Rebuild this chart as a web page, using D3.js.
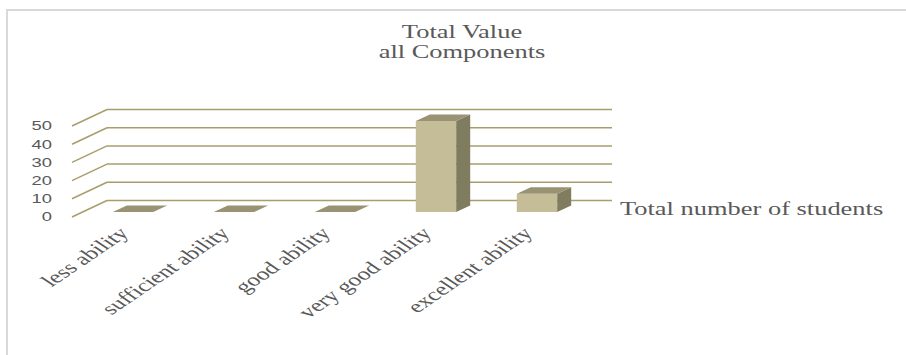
<!DOCTYPE html>
<html>
<head>
<meta charset="utf-8">
<script src="https://cdn.jsdelivr.net/npm/d3@7"></script>
<style>
  body { margin: 0; background: #fff; }
  svg { display: block; }
</style>
</head>
<body>
<svg id="chart" width="906" height="355"></svg>
<script>
var categories = ["less ability", "sufficient ability", "good ability", "very good ability", "excellent ability"];
var values = [0, 0, 0, 50, 10];
var yTicks = [0, 10, 20, 30, 40, 50];
var titleLines = ["Total Value", "all Components"];
var seriesName = "Total number of students";

// the source picture is stretched sideways, so text is too
var STRETCH = 1.47;
var DX = 35, DY = -16.5;   // depth offset of the back wall

var svg = d3.select("#chart");

var x = d3.scaleBand()
    .domain(categories)
    .range([72, 577])
    .padding(0);

var y = d3.scaleLinear()
    .domain([0, 50])
    .range([217, 126]);

function proj(px, py, f){
    return [px + f * DX, py + f * DY];
}

// frame
svg.append("rect")
    .attr("x", 7).attr("y", 10)
    .attr("width", 1000).attr("height", 500)
    .style("fill", "none")
    .style("stroke", "#d9d9d9")
    .style("stroke-width", 2);

// title
svg.selectAll(".title")
    .data(titleLines)
    .enter()
    .append("text")
    .attr("class", "title")
    .attr("transform", function(d, i){ return "translate(462," + (38 + i * 20) + ") scale(" + STRETCH + ",1)"; })
    .attr("text-anchor", "middle")
    .style("font-family", "'Liberation Serif', serif")
    .style("font-size", "18px")
    .style("fill", "#595959")
    .text(function(d){ return d; });

// gridlines: diagonal on the side wall + horizontal on the back wall
var grid = svg.append("g").attr("class", "grid");
grid.selectAll(".diag")
    .data(yTicks)
    .enter()
    .append("line")
    .attr("x1", function(){ return proj(72, 0, 0)[0]; })
    .attr("y1", function(d){ return proj(72, y(d), 0)[1]; })
    .attr("x2", function(){ return proj(72, 0, 1)[0]; })
    .attr("y2", function(d){ return proj(72, y(d), 1)[1]; })
    .style("stroke", "#a89e6b")
    .style("stroke-width", 1.5);

grid.selectAll(".back")
    .data(yTicks)
    .enter()
    .append("line")
    .attr("x1", proj(72, 0, 1)[0])
    .attr("x2", proj(577, 0, 1)[0])
    .attr("y1", function(d){ return proj(0, y(d), 1)[1]; })
    .attr("y2", function(d){ return proj(0, y(d), 1)[1]; })
    .style("stroke", "#a89e6b")
    .style("stroke-width", 1.5);

// y tick labels
svg.selectAll(".ytick")
    .data(yTicks)
    .enter()
    .append("text")
    .attr("class", "ytick")
    .attr("transform", function(d){ return "translate(52," + y(d) + ") scale(" + STRETCH + ",1)"; })
    .attr("dy", "0.35em")
    .attr("text-anchor", "end")
    .style("font-family", "'Liberation Sans', sans-serif")
    .style("font-size", "12.5px")
    .style("fill", "#595959")
    .text(function(d){ return d; });

// bars
var F0 = 0.3, F1 = 0.7;
var bars = svg.selectAll(".bar")
    .data(categories.map(function(c, i){ return {cat: c, value: values[i]}; }))
    .enter()
    .append("g")
    .attr("class", "bar");

function pts(list){
    return list.map(function(p){ return p.join(","); }).join(" ");
}

bars.each(function(d){
    var g = d3.select(this);
    var xa = x(d.cat) + 0.3 * x.bandwidth();
    var xb = x(d.cat) + 0.7 * x.bandwidth();
    var y0 = y(0), y1 = y(d.value);
    if (d.value > 0) {
        g.append("polygon")
            .attr("points", pts([proj(xa, y1, F0), proj(xb, y1, F0), proj(xb, y0, F0), proj(xa, y0, F0)]))
            .style("fill", "#c4bd97");
        g.append("polygon")
            .attr("points", pts([proj(xb, y1, F0), proj(xb, y1, F1), proj(xb, y0, F1), proj(xb, y0, F0)]))
            .style("fill", "#807c5f");
    }
    g.append("polygon")
        .attr("points", pts([proj(xa, y1, F0), proj(xb, y1, F0), proj(xb, y1, F1), proj(xa, y1, F1)]))
        .style("fill", "#999373");
});

// category labels
svg.selectAll(".xlabel")
    .data(categories)
    .enter()
    .append("text")
    .attr("class", "xlabel")
    .attr("transform", function(d){
        return "translate(" + (x(d) + x.bandwidth() / 2 + 1) + ",230) scale(" + STRETCH + ",1) rotate(-45)";
    })
    .attr("text-anchor", "end")
    .attr("dy", "0.35em")
    .style("font-family", "'Liberation Serif', serif")
    .style("font-size", "17.5px")
    .style("fill", "#595959")
    .text(function(d){ return d; });

// legend
svg.append("text")
    .attr("transform", "translate(620,215) scale(" + STRETCH + ",1)")
    .style("font-family", "'Liberation Serif', serif")
    .style("font-size", "18px")
    .style("fill", "#595959")
    .text(seriesName);
</script>
</body>
</html>
